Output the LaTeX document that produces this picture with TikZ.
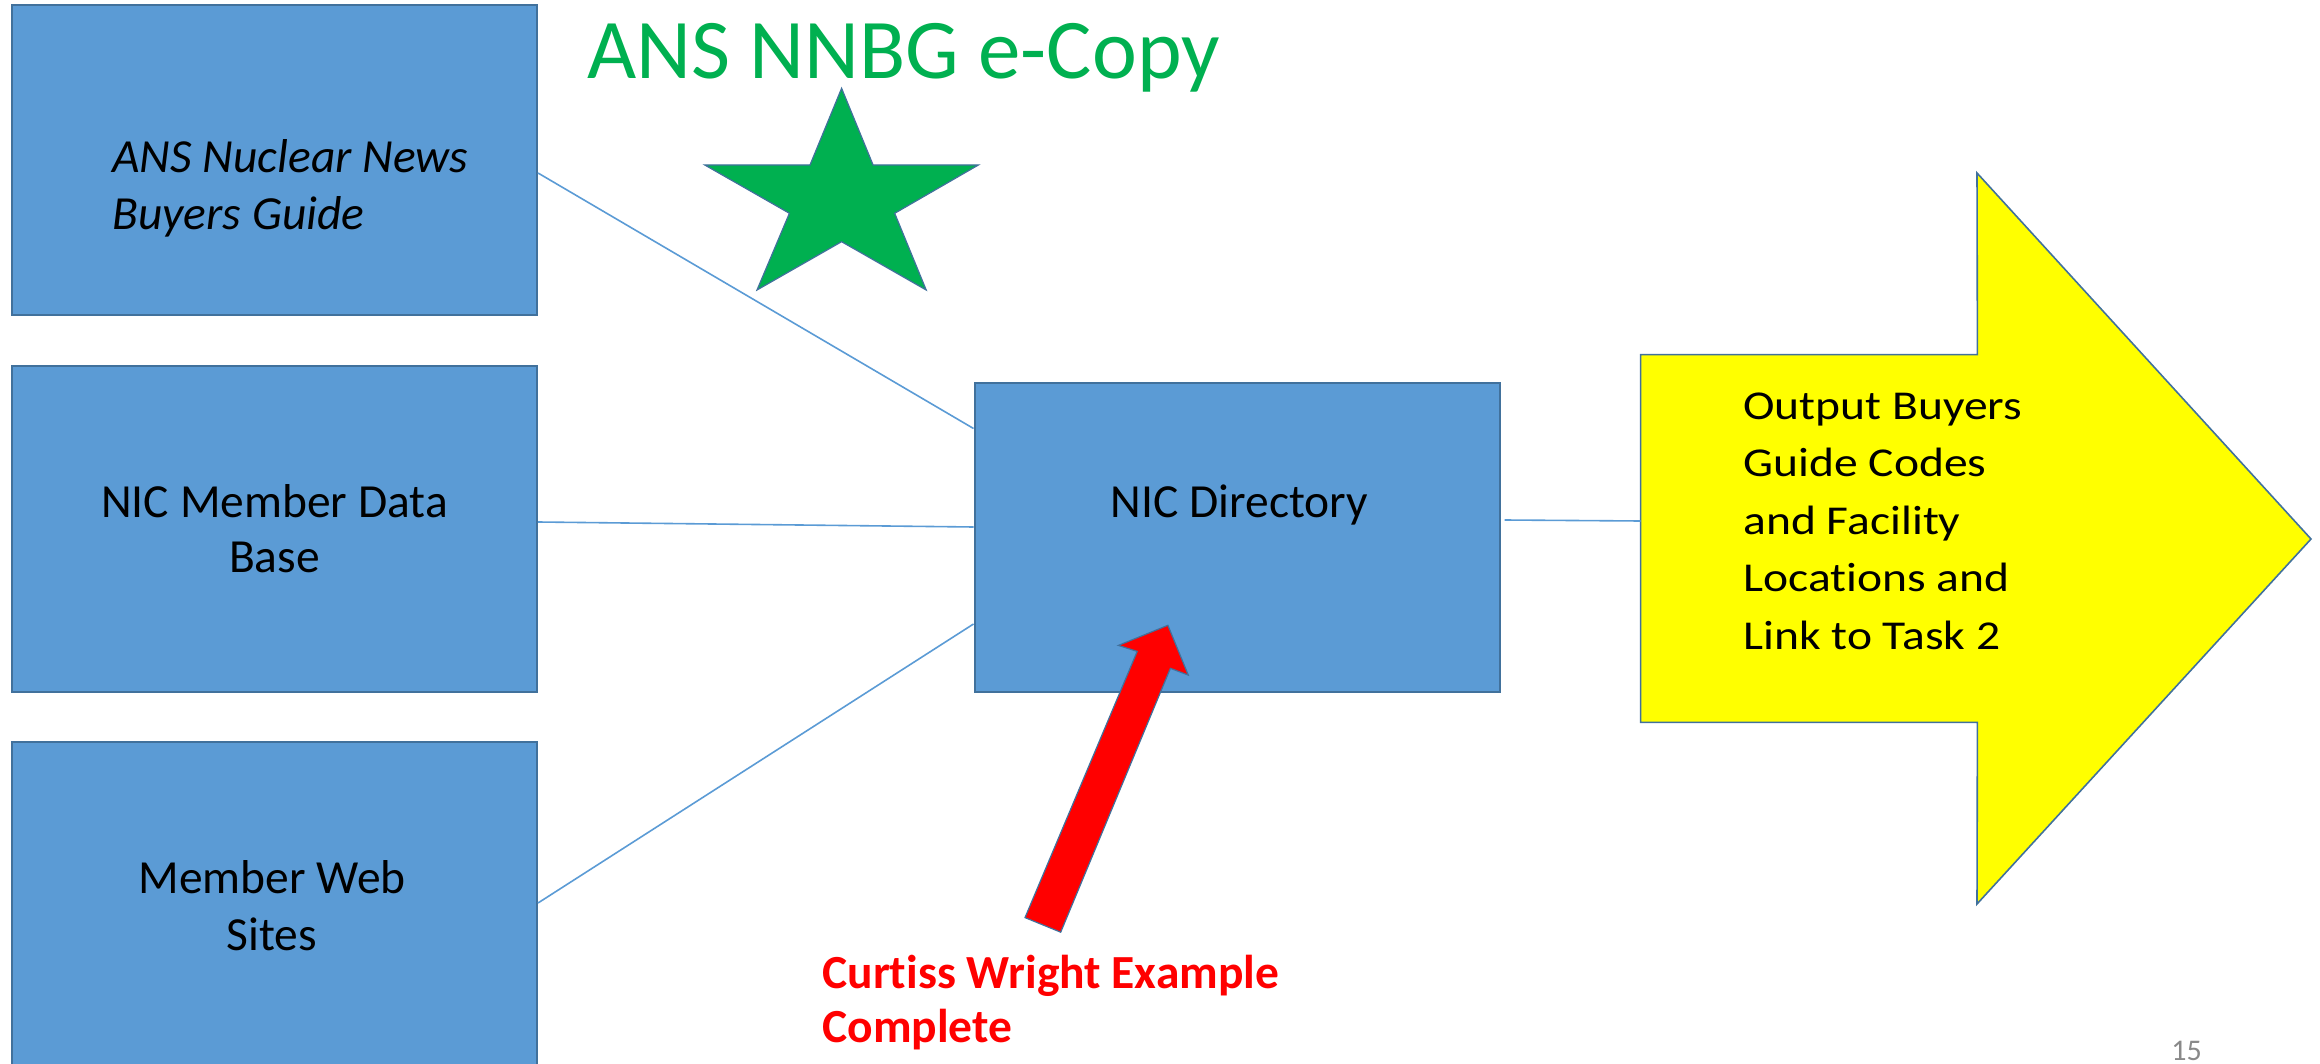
\documentclass[tikz,border=0pt]{standalone}
\usepackage{fontspec}
\setmainfont{Carlito}[Ligatures=NoCommon]
\newfontfamily\widefont[FakeStretch=1.16,Ligatures=NoCommon]{Carlito}
\usetikzlibrary{calc}
\definecolor{boxblue}{HTML}{5B9BD5}
\definecolor{edgeblue}{HTML}{41719C}
\definecolor{stargreen}{HTML}{00B050}
\definecolor{outyellow}{HTML}{FFFF00}
\definecolor{pagegray}{HTML}{898989}

\begin{document}
\begin{tikzpicture}[x=0.5pt,y=-0.5pt,
    srcbox/.style={draw=edgeblue,fill=boxblue,line width=1pt,inner sep=0pt,minimum width=262.5pt},
    link/.style={draw=boxblue,line width=0.8pt},
    boxtext/.style={inner sep=0pt,font=\fontsize{23.75}{27.5}\selectfont}]
  \useasboundingbox (0,0) rectangle (2320,1064);

% source boxes (multi-line text sits on its last baseline)
  \node[srcbox,minimum height=155pt] (anb) at (274.5,160) {};
  \node[srcbox,minimum height=163pt] (nicdb) at (274.5,529) {};
  \node[srcbox,minimum height=163pt] (mws) at (274.5,905) {};
  \node[boxtext,anchor=base west,align=left,font=\itshape\fontsize{23.75}{28.5}\selectfont] (anbtxt) at (112,230) {ANS Nuclear News\\Buyers Guide};
  \node[boxtext,anchor=base,align=center] (nicdbtxt) at (274.5,572) {NIC Member Data\\Base};
  \node[boxtext,anchor=base,align=center,font=\fontsize{23.75}{28.5}\selectfont] (mwstxt) at (272,950) {Member Web\\Sites};

% directory
  \node[srcbox,minimum height=154.5pt] (nicdir) at (1237,537.5) {};
  \node[boxtext,anchor=base] (nicdirtxt) at (1239.5,517) {NIC Directory};

% links into and out of the directory
  \draw[link] ($(anb.east)+(0,13)$) -- ($(nicdir.west)+(0,-109)$);
  \draw[link] ($(nicdb.east)+(0,-7)$) -- ($(nicdir.west)+(0,-10.5)$);
  \draw[link] ($(mws.east)+(0,-2)$) -- ($(nicdir.west)+(0,86.5)$);

% output arrow
  \node[minimum width=168pt,minimum height=183.5pt,inner sep=0pt] (outrect) at (1809,538.5) {};
  \filldraw[fill=outyellow,draw=edgeblue,line width=0.8pt] (outrect.south west) -- (outrect.north west)
    -- (outrect.north east) -- (1977,173) -- (2311,539) -- (1977,904) -- (outrect.south east) -- cycle;
  \node[anchor=base west,inner sep=0pt,align=left,font=\widefont\fontsize{20.5}{28.75}\selectfont] (outtxt) at (1743,649)
    {Output Buyers\\Guide Codes\\and Facility\\Locations and\\Link to Task 2};
  \draw[link] ($(nicdir.east)+(4,-17.5)$) -- ($(outrect.west)+(0,-17.5)$);

% e-copy star and title
  \filldraw[fill=stargreen,draw=edgeblue,line width=0.6pt] (841.6,88.3) -- (873.1,165) -- (978.4,165) -- (894.7,213.3)
    -- (926.2,290) -- (841.6,241.7) -- (757,290) -- (789.4,213.3) -- (704.8,165) -- (810,165) -- cycle;
  \node[anchor=base west,inner sep=0pt,text=stargreen,font=\fontsize{42.5}{50}\selectfont] (title) at (587,79) {ANS NNBG e-Copy};

% example marker
  \filldraw[fill=red,draw=edgeblue,line width=0.6pt] (1167.9,625.3) -- (1188.3,675.1) -- (1170.4,668.3) -- (1060.7,932.2)
    -- (1025,917.6) -- (1137.2,651.4) -- (1118.4,645.4) -- cycle;
  \node[anchor=base west,inner sep=0pt,align=left,text=red,font=\bfseries\fontsize{23.75}{27}\selectfont] (cwe) at (822,1042)
    {Curtiss Wright Example\\Complete};

  \node[anchor=base west,inner sep=0pt,text=pagegray,font=\fontsize{15}{18}\selectfont] (pgno) at (2171,1060) {15};
\end{tikzpicture}
\end{document}
